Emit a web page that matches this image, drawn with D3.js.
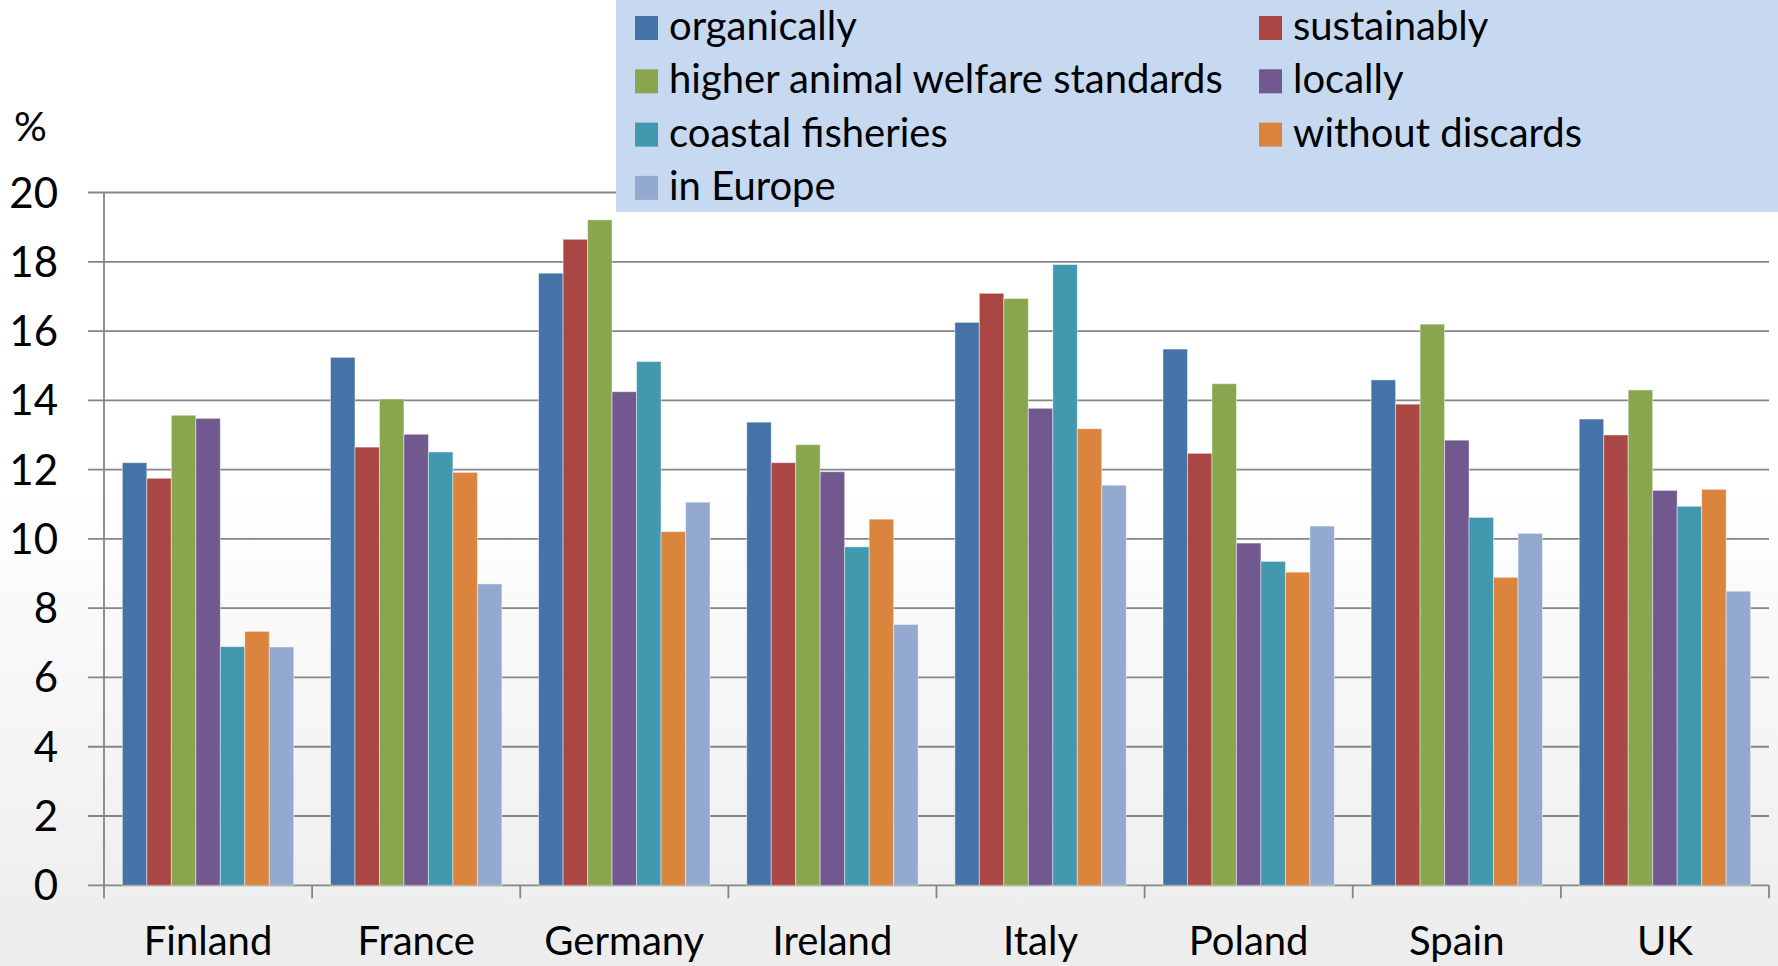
<!DOCTYPE html>
<html>
<head>
<meta charset="utf-8">
<script src="https://cdn.jsdelivr.net/npm/d3@7"></script>
<style>
  html, body { margin: 0; padding: 0; background: #fff; }
  svg { display: block; font-family: Lato, "Open Sans", sans-serif; }
</style>
</head>
<body>
<svg id="chart" width="1778" height="966"></svg>
<script>
var countries = ["Finland", "France", "Germany", "Ireland", "Italy", "Poland", "Spain", "UK"];
var series = ["organically", "sustainably", "higher animal welfare standards", "locally",
              "coastal fisheries", "without discards", "in Europe"];
var colors = ["#4572A7", "#AA4643", "#89A54E", "#71588F", "#4198AF", "#DB843D", "#93A9CF"];

// one array per series, in country order
var organically   = [12.2, 15.24, 17.67, 13.37, 16.25, 15.48, 14.59, 13.46];
var sustainably   = [11.75, 12.65, 18.65, 12.2, 17.09, 12.47, 13.89, 13.0];
var welfare       = [13.57, 14.04, 19.21, 12.72, 16.94, 14.48, 16.2, 14.3];
var locally       = [13.48, 13.02, 14.25, 11.94, 13.77, 9.88, 12.85, 11.4];
var coastal       = [6.89, 12.51, 15.12, 9.77, 17.92, 9.35, 10.62, 10.94];
var discards      = [7.33, 11.92, 10.21, 10.57, 13.18, 9.04, 8.89, 11.43];
var europe        = [6.88, 8.7, 11.06, 7.53, 11.55, 10.37, 10.16, 8.49];
var values = [organically, sustainably, welfare, locally, coastal, discards, europe];

var yTicks = [0, 2, 4, 6, 8, 10, 12, 14, 16, 18, 20];

var svg = d3.select("#chart");
var W = 1778, H = 966;

// background gradient (white fading to light grey at the bottom)
var defs = svg.append("defs");
var grad = defs.append("linearGradient").attr("id", "bg")
  .attr("x1", 0).attr("y1", 0).attr("x2", 0).attr("y2", 1);
grad.append("stop").attr("offset", "0%").attr("stop-color", "#ffffff");
grad.append("stop").attr("offset", "50%").attr("stop-color", "#ffffff");
grad.append("stop").attr("offset", "100%").attr("stop-color", "#ececec");
svg.append("rect").attr("width", W).attr("height", H).attr("fill", "url(#bg)");

var plotLeft = 104, plotRight = 1769, plotTop = 192.5, plotBottom = 885.3;

var x = d3.scaleBand().domain(countries).range([plotLeft, plotRight]);
var x1 = d3.scaleBand().domain(d3.range(series.length))
  .range([0, x.bandwidth()]).paddingOuter(0.75);
var y = d3.scaleLinear().domain([0, 20]).range([plotBottom, plotTop]);

var gridColor = "#858585";

// gridlines
svg.append("g").selectAll("line").data(yTicks).enter().append("line")
  .attr("x1", plotLeft - 16).attr("x2", plotRight)
  .attr("y1", function(d) { return y(d); })
  .attr("y2", function(d) { return y(d); })
  .attr("stroke", gridColor).attr("stroke-width", 1.8);

// y axis line
svg.append("line").attr("x1", plotLeft).attr("x2", plotLeft)
  .attr("y1", plotTop).attr("y2", plotBottom + 13)
  .attr("stroke", gridColor).attr("stroke-width", 1.8);

// x ticks between categories
var xTickPos = countries.map(function(c) { return x(c); }).concat([plotRight]);
svg.append("g").selectAll("line").data(xTickPos.slice(1)).enter().append("line")
  .attr("x1", function(d) { return d; }).attr("x2", function(d) { return d; })
  .attr("y1", plotBottom).attr("y2", plotBottom + 13)
  .attr("stroke", gridColor).attr("stroke-width", 1.8);

// bars
var groups = svg.append("g").selectAll("g").data(countries).enter().append("g")
  .attr("transform", function(d) { return "translate(" + x(d) + ",0)"; });

groups.selectAll("rect")
  .data(function(c, ci) { return values.map(function(v, si) { return { s: si, v: v[ci] }; }); })
  .enter().append("rect")
  .attr("x", function(d) { return x1(d.s); })
  .attr("width", x1.bandwidth())
  .attr("y", function(d) { return y(d.v); })
  .attr("height", function(d) { return y(0) - y(d.v); })
  .attr("fill", function(d) { return colors[d.s]; })
  .attr("stroke", "rgba(255,255,255,0.45)").attr("stroke-width", 1);

// y tick labels
svg.append("g").selectAll("text").data(yTicks).enter().append("text")
  .attr("x", 58).attr("y", function(d) { return y(d) + 15; })
  .attr("text-anchor", "end").attr("font-size", 42).attr("fill", "#000")
  .text(function(d) { return d; });

// unit label
svg.append("text").attr("x", 14).attr("y", 141).attr("font-size", 41).text("%");

// x labels
svg.append("g").selectAll("text").data(countries).enter().append("text")
  .attr("x", function(d) { return x(d) + x.bandwidth() / 2; })
  .attr("y", 955).attr("text-anchor", "middle").attr("font-size", 40)
  .text(function(d) { return d; });

// legend
svg.append("rect").attr("x", 616).attr("y", 0).attr("width", W - 616).attr("height", 212)
  .attr("fill", "#C6D9F1");

var legendCols = [635, 1259];
var legend = svg.append("g").selectAll("g").data(series).enter().append("g")
  .attr("transform", function(d, i) {
    return "translate(" + legendCols[i % 2] + "," + (40 + Math.floor(i / 2) * 53.3) + ")";
  });
legend.append("rect").attr("x", 0).attr("y", -24).attr("width", 23).attr("height", 24)
  .attr("fill", function(d, i) { return colors[i]; });
legend.append("text").attr("x", 34).attr("y", 0).attr("font-size", 40)
  .text(function(d) { return d; });
</script>
</body>
</html>
